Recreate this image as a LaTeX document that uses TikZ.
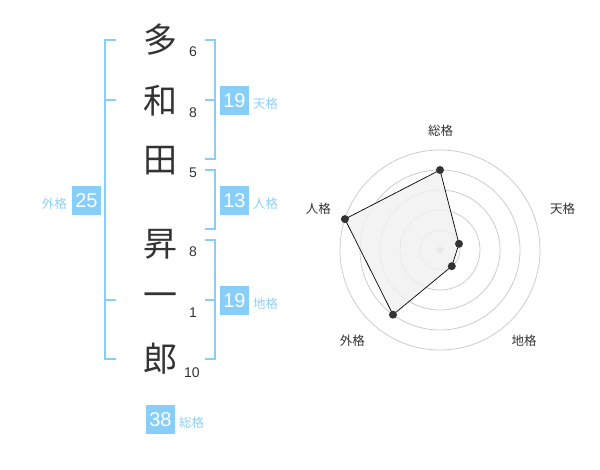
\documentclass[tikz,border=0pt]{standalone}
\usepackage{fontspec}
\setmainfont{Noto Sans CJK JP}
\newfontfamily\numfont{Liberation Sans}
\definecolor{kblue}{HTML}{87CEFA}
\definecolor{klabel}{HTML}{8FD0F8}
\definecolor{ktext}{HTML}{333333}
\definecolor{kgrid}{HTML}{CCCCCC}
\definecolor{kfill}{HTML}{F0F0F0}
\begin{document}
\begin{tikzpicture}[x=1pt,y=-1pt,
  kanji/.style={font=\fontsize{34}{34}\selectfont, text=ktext, inner sep=0pt},
  stroke/.style={font=\numfont\fontsize{14}{14}\selectfont, text=ktext, inner sep=0pt},
  scorebox/.style={fill=kblue, text=white, minimum width=29pt, minimum height=29pt, inner sep=0pt, font=\numfont\fontsize{20}{20}\selectfont},
  scorelabel/.style={text=klabel, font=\fontsize{12.5}{12.5}\selectfont, inner sep=0pt},
  bracket/.style={draw=kblue, line width=2pt},
  grid/.style={draw=kgrid, line width=0.8pt},
  axislabel/.style={text=ktext, font=\fontsize{12.5}{12.5}\selectfont, inner sep=0pt},
  dot/.style={circle, fill=ktext, inner sep=0pt, minimum size=8pt}]
\useasboundingbox (0,0) rectangle (600,470);
% kanji
\node[kanji] (k1) at (160,40) {多};
\node[kanji] (k2) at (160,101) {和};
\node[kanji] (k3) at (160,161) {田};
\node[kanji] (k4) at (160,244) {昇};
\node[kanji] (k5) at (160,300) {一};
\node[kanji] (k6) at (160,359) {郎};
% strokes
\node[stroke] (s1) at (193,52) {6};
\node[stroke] (s2) at (193,113) {8};
\node[stroke] (s3) at (193,173) {5};
\node[stroke] (s4) at (193,252) {8};
\node[stroke] (s5) at (193,313) {1};
\node[stroke] (s6) at (192,373) {10};
% brackets
\draw[bracket] (116,40) -- (105,40) -- (105,359.5) -- (116,359.5);
\draw[bracket] (105,100) -- (116,100);
\draw[bracket] (105,300) -- (116,300);
\draw[bracket] (205,40) -- (215,40) -- (215,159.5) -- (205,159.5);
\draw[bracket] (205,100) -- (215,100);
\draw[bracket] (205,170) -- (215,170) -- (215,229.5) -- (205,229.5);
\draw[bracket] (205,240) -- (215,240) -- (215,359.5) -- (205,359.5);
\draw[bracket] (205,300) -- (215,300);
% scores
\node[scorebox] (ten) at (234.5,100.5) {19};
\node[scorelabel, anchor=west] (tenl) at (253,104) {天格};
\node[scorebox] (jin) at (234.5,200.5) {13};
\node[scorelabel, anchor=west] (jinl) at (253,204) {人格};
\node[scorebox] (chi) at (234.5,300.5) {19};
\node[scorelabel, anchor=west] (chil) at (253,304) {地格};
\node[scorebox] (gai) at (86.5,200.5) {25};
\node[scorelabel, anchor=east] (gail) at (67,204) {外格};
\node[scorebox] (sou) at (160.5,419.5) {38};
\node[scorelabel, anchor=west] (soul) at (179,423) {総格};
% radar
\coordinate (c) at (440,250);
\foreach \r in {20,40,60,80,100} \draw[grid] (c) circle[radius=\r];
\fill[kgrid] (c) circle[radius=3.5];
\coordinate (pso) at (440,170);
\coordinate (pten) at (459.0,243.8);
\coordinate (pchi) at (451.8,266.2);
\coordinate (pgai) at (393.0,314.7);
\coordinate (pjin) at (344.9,219.1);
\draw[fill=kfill, fill opacity=0.8, draw=black, line width=0.7pt] (pso) -- (pten) -- (pchi) -- (pgai) -- (pjin) -- cycle;
\foreach \p in {pso,pten,pchi,pgai,pjin} \node[dot] at (\p) {};
\node[axislabel] (lso) at (440.7,130.7) {総格};
\node[axislabel] (lten) at (562.7,208.7) {天格};
\node[axislabel] (lchi) at (524,340.7) {地格};
\node[axislabel] (lgai) at (352.3,340.7) {外格};
\node[axislabel] (ljin) at (318.3,208.7) {人格};
\end{tikzpicture}
\end{document}
